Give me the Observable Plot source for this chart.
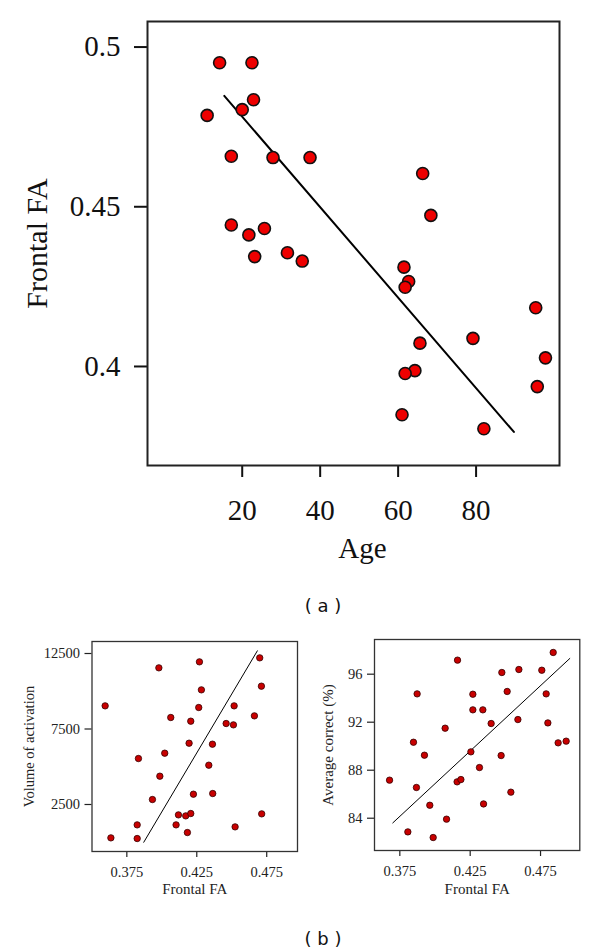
<!DOCTYPE html>
<html>
<head>
<meta charset="utf-8">
<script src="https://cdn.jsdelivr.net/npm/d3@7"></script>
<script src="https://cdn.jsdelivr.net/npm/@observablehq/plot@0.6"></script>
<style>
  html, body { margin: 0; padding: 0; background: #fff; }
  #root { position: relative; width: 600px; height: 952px; background: #fff; overflow: hidden; }
  .panel { position: absolute; }
  .tag { position: absolute; font-family: "DejaVu Sans", sans-serif; font-size: 18px; color: #111; transform: translate(-50%, -50%); white-space: pre; }
</style>
</head>
<body>
<div id="root"></div>
<script>
// ---- Panel (a): Frontal FA vs Age ----
const ageValues = [14.2, 22.5, 22.9, 20.0, 11.0, 17.2, 27.9, 37.4, 66.3, 68.4, 17.2, 21.7, 25.7, 23.2, 31.6, 35.4, 61.5, 62.7, 61.8, 95.3, 65.6, 79.2, 97.8, 64.3, 61.8, 95.7, 61.0, 82.0];
const faValues  = [0.4951, 0.4951, 0.4835, 0.4804, 0.4786, 0.4658, 0.4654, 0.4654, 0.4604, 0.4473, 0.4443, 0.4412, 0.4432, 0.4344, 0.4356, 0.4330, 0.4311, 0.4266, 0.4248, 0.4184, 0.4073, 0.4088, 0.4027, 0.3987, 0.3978, 0.3937, 0.3849, 0.3805];
const fitAge = [15.4, 89.7];
const fitFA  = [0.4847, 0.3795];
const ageTicks = [20, 40, 60, 80];
const faTicks = [0.4, 0.45, 0.5];

// ---- Panel (b) left: Volume of activation vs Frontal FA ----
const volFA  = [0.3595, 0.3636, 0.3824, 0.3824, 0.3833, 0.3933, 0.3979, 0.3986, 0.4021, 0.4064, 0.4102, 0.4119, 0.4171, 0.4183, 0.4195, 0.4207, 0.4207, 0.4226, 0.4264, 0.4269, 0.4283, 0.4336, 0.4362, 0.4364, 0.4460, 0.4512, 0.4517, 0.4524, 0.4662, 0.4700, 0.4712, 0.4714];
const volValues = [9033, 290, 1151, 246, 5545, 2829, 11551, 4375, 5898, 8261, 1151, 1813, 1747, 643, 6560, 1902, 8018, 3182, 8923, 11948, 10093, 5103, 6494, 3226, 7863, 7775, 9033, 1018, 8371, 12213, 10336, 1880];
const volFitFA = [0.3871, 0.4683];
const volFitV  = [0, 12677];
const volTicks = [2500, 7500, 12500];

// ---- Panel (b) right: Average correct vs Frontal FA ----
const accFA = [0.3677, 0.3807, 0.3847, 0.3868, 0.3873, 0.3925, 0.3963, 0.3987, 0.4072, 0.4082, 0.4160, 0.4157, 0.4184, 0.4255, 0.4269, 0.4269, 0.4316, 0.4340, 0.4345, 0.4399, 0.4470, 0.4475, 0.4513, 0.4539, 0.4589, 0.4596, 0.4759, 0.4790, 0.4802, 0.4840, 0.4875, 0.4932];
const accValues = [87.17, 82.86, 90.33, 86.56, 94.36, 89.25, 85.08, 82.39, 91.5, 83.92, 97.17, 87.03, 87.22, 89.53, 94.33, 93.03, 88.22, 93.03, 85.19, 91.89, 89.22, 96.14, 94.56, 86.17, 92.22, 96.39, 96.33, 94.36, 91.94, 97.81, 90.28, 90.42];
const accFitFA = [0.3700, 0.4958];
const accFitV  = [83.61, 97.31];
const accTicks = [84, 88, 92, 96];
const smallFATicks = [0.375, 0.425, 0.475];

const serif = "'Liberation Serif', 'Times New Roman', serif";
const root = document.getElementById("root");

function place(el, left, top) {
  el.classList.add("panel");
  el.style.left = left + "px";
  el.style.top = top + "px";
  root.appendChild(el);
}

const pairs = (a, b) => a.map((v, i) => [v, b[i]]);

// Main panel
const mainPlot = Plot.plot({
  width: 600, height: 580,
  marginTop: 21, marginLeft: 147, marginRight: 41, marginBottom: 115,
  x: {domain: [-4.3, 101.4]},
  y: {domain: [0.369, 0.508]},
  style: {fontFamily: serif, background: "white", color: "#111"},
  marks: [
    Plot.axisX({ticks: ageTicks, tickSize: 12, tickPadding: 22, fontSize: 29, strokeWidth: 2, label: null, tickFormat: d => String(d)}),
    Plot.axisY({ticks: faTicks, tickSize: 13, tickPadding: 14, fontSize: 29, strokeWidth: 2, label: null, tickFormat: d => String(d)}),
    Plot.line(pairs(fitAge, fitFA), {x: d => d[0], y: d => d[1], stroke: "#000", strokeWidth: 2}),
    Plot.dot(ageValues, {x: ageValues, y: faValues, r: 6, fill: "#ee0000", stroke: "#111", strokeWidth: 1.6}),
    Plot.frame({stroke: "#222", strokeWidth: 2}),
    Plot.text(["Age"], {frameAnchor: "bottom", textAnchor: "middle", dx: 9, dy: 92, fontSize: 29, fill: "#111"}),
    Plot.text(["Frontal FA"], {frameAnchor: "left", textAnchor: "middle", dx: -110, rotate: -90, fontSize: 30, fill: "#111"})
  ]
});
place(mainPlot, 0, 0);

// Bottom-left panel
const volPlot = Plot.plot({
  width: 300, height: 280,
  marginTop: 11, marginLeft: 91.5, marginRight: 3, marginBottom: 59,
  x: {domain: [0.3501, 0.4970]},
  y: {domain: [-613, 13295]},
  style: {fontFamily: serif, background: "white", color: "#222"},
  marks: [
    Plot.axisX({ticks: smallFATicks, tickSize: 6, tickPadding: 9, fontSize: 14.5, strokeWidth: 1.2, label: null, tickFormat: d3.format(".3f")}),
    Plot.axisY({ticks: volTicks, tickSize: 7, tickPadding: 5, fontSize: 14.5, strokeWidth: 1.2, label: null, tickFormat: d => String(d)}),
    Plot.line(pairs(volFitFA, volFitV), {x: d => d[0], y: d => d[1], stroke: "#000", strokeWidth: 1}),
    Plot.dot(volFA, {x: volFA, y: volValues, r: 3.2, fill: "#c80000", stroke: "#330000", strokeWidth: 0.8}),
    Plot.frame({stroke: "#333", strokeWidth: 1.3}),
    Plot.text(["Frontal FA"], {frameAnchor: "bottom", textAnchor: "middle", dy: 42, fontSize: 15, fill: "#222"}),
    Plot.text(["Volume of activation"], {frameAnchor: "left", textAnchor: "middle", dx: -63, rotate: -90, fontSize: 14.5, fill: "#222"})
  ]
});
place(volPlot, 0, 630);

// Bottom-right panel
const accPlot = Plot.plot({
  width: 300, height: 280,
  marginTop: 9, marginLeft: 74, marginRight: 20.7, marginBottom: 60,
  x: {domain: [0.3570, 0.5029]},
  y: {domain: [81.31, 98.89]},
  style: {fontFamily: serif, background: "white", color: "#222"},
  marks: [
    Plot.axisX({ticks: smallFATicks, tickSize: 6, tickPadding: 9, fontSize: 14.5, strokeWidth: 1.2, label: null, tickFormat: d3.format(".3f")}),
    Plot.axisY({ticks: accTicks, tickSize: 7, tickPadding: 5, fontSize: 14.5, strokeWidth: 1.2, label: null, tickFormat: d => String(d)}),
    Plot.line(pairs(accFitFA, accFitV), {x: d => d[0], y: d => d[1], stroke: "#000", strokeWidth: 1}),
    Plot.dot(accFA, {x: accFA, y: accValues, r: 3.2, fill: "#c80000", stroke: "#330000", strokeWidth: 0.8}),
    Plot.frame({stroke: "#333", strokeWidth: 1.3}),
    Plot.text(["Frontal FA"], {frameAnchor: "bottom", textAnchor: "middle", dy: 43, fontSize: 15, fill: "#222"}),
    Plot.text(["Average correct (%)"], {frameAnchor: "left", textAnchor: "middle", dx: -46, rotate: -90, fontSize: 15, fill: "#222"})
  ]
});
place(accPlot, 300, 630);

// Panel tags
const tagA = document.createElement("div");
tagA.className = "tag"; tagA.textContent = "( a )";
tagA.style.left = "323px"; tagA.style.top = "605px";
root.appendChild(tagA);
const tagB = document.createElement("div");
tagB.className = "tag"; tagB.textContent = "( b )";
tagB.style.left = "323px"; tagB.style.top = "938px";
root.appendChild(tagB);
</script>
</body>
</html>
